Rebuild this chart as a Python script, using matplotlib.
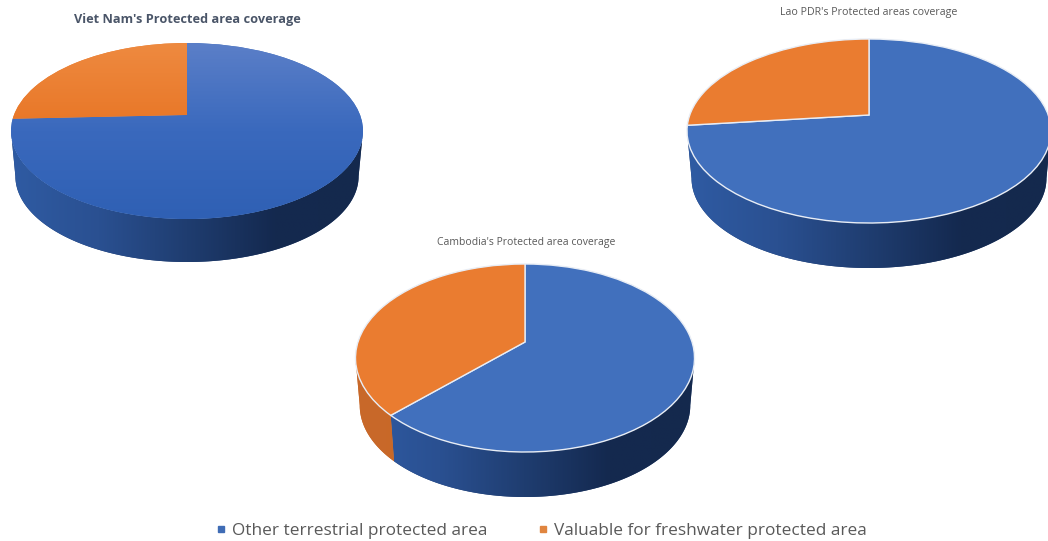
import numpy as np
import matplotlib
matplotlib.use("Agg")
import matplotlib.pyplot as plt
from matplotlib.lines import Line2D
from matplotlib.path import Path
from matplotlib.patches import PathPatch
from matplotlib.transforms import Transform
from matplotlib.colors import LinearSegmentedColormap

plt.rcParams['font.family'] = ['Open Sans', 'DejaVu Sans']

# ---- data ----
categories = ["Other terrestrial protected area", "Valuable for freshwater protected area"]
viet_nam = [74.3, 25.7]
lao_pdr = [73.2, 26.8]
cambodia = [62.5, 37.5]
title_vn = "Viet Nam's Protected area coverage"
title_lao = "Lao PDR's Protected areas coverage"
title_cam = "Cambodia's Protected area coverage"

W, H = 1048, 541
BLUE, ORANGE = "#4170bd", "#ea7c30"
BOTTOM_SCALE = 0.975  # the lower rim is further from the viewer


class Perspective(Transform):
    """Tilts the unit-circle pie plane into the screen plane."""
    input_dims = output_dims = 2
    is_affine = False
    has_inverse = False

    def __init__(self, a, b, p):
        super().__init__()
        self.a, self.b, self.p = a, b, p

    def transform_non_affine(self, values):
        values = np.asarray(values, float)
        w = 1 + self.p * values[:, 1]
        return np.column_stack([self.a * values[:, 0] / w, self.b * values[:, 1] / w])


def draw_pie(fig, values, title, apex, rx, dt, db, depth, title_xy, title_kw, glossy, edge):
    cx, cy = apex
    ax = fig.add_axes([0, 0, 1, 1], facecolor="none")
    wedges, _ = ax.pie(values, startangle=90, counterclock=False, colors=[BLUE, ORANGE],
                       radius=1, wedgeprops=dict(edgecolor=edge, linewidth=1.0 if edge != "none" else 0))
    ax.axis("off")

    p = (db - dt) / (db + dt)
    b = dt * (1 + p)
    a = rx * np.sqrt(1 - p ** 2)
    persp = Perspective(a, b, p)
    for w in wedges:
        w.set_transform(persp + ax.transData)
        w.set_zorder(3)

    # extruded side wall: only the part of each slice that faces the viewer
    lo = 180 + np.degrees(np.arcsin(p))
    hi = 360 - np.degrees(np.arcsin(p))
    side_maps = [
        LinearSegmentedColormap.from_list("b", ["#2f5ba3", "#2a5091", "#1f3d70", "#14294f", "#15294d"]),
        LinearSegmentedColormap.from_list("o", ["#c9692a", "#c0641f"]),
    ]
    extent = [-rx, rx, -db - depth - 2, 30]
    drop = depth + db * (1 - BOTTOM_SCALE)
    for w, cmap in zip(wedges, side_maps):
        for shift in (-720, -360, 0, 360):
            s1, s2 = max(w.theta1, lo + shift) - shift, min(w.theta2, hi + shift) - shift
            if s2 <= s1:
                continue
            th = np.radians(np.linspace(s1, s2, 200))
            top = persp.transform_non_affine(np.column_stack([np.cos(th), np.sin(th)]))
            bot = top[::-1] * BOTTOM_SCALE - [0, drop]
            verts = np.vstack([top, bot, top[:1]])
            codes = [Path.MOVETO] + [Path.LINETO] * (len(verts) - 2) + [Path.CLOSEPOLY]
            patch = PathPatch(Path(verts, codes), facecolor=cmap(0.5), edgecolor="none", zorder=1)
            ax.add_patch(patch)
            grad = np.linspace(0, 1, 256)[None, :]
            im = ax.imshow(grad, cmap=cmap, extent=extent, aspect="auto", zorder=2, interpolation="bilinear")
            im.set_clip_path(patch)

    if glossy:
        maps = [LinearSegmentedColormap.from_list("tb", ["#2f60b4", "#3a69bd", "#5b7fc8"]),
                LinearSegmentedColormap.from_list("to", ["#e0681a", "#e87525", "#ee8a40"])]
        for w, cmap in zip(wedges, maps):
            g = np.linspace(0, 1, 256)[:, None]
            im = ax.imshow(g, cmap=cmap, origin="lower", extent=[-rx, rx, -db, dt], aspect="auto",
                           zorder=4, interpolation="bilinear")
            im.set_clip_path(w)

    ax.set_aspect("auto")
    ax.set_xlim(-cx, W - cx)
    ax.set_ylim(cy - H, cy)
    ax.text(title_xy[0] - cx, cy - title_xy[1], title, ha="center", va="center", **title_kw)
    return wedges


fig = plt.figure(figsize=(W / 100, H / 100), dpi=100, facecolor="white")

draw_pie(fig, viet_nam, title_vn, (187, 115), 176, 72, 104, 43, (187, 20),
         dict(fontsize=9.2, fontweight="bold", color="#4a5568"), True, "none")
draw_pie(fig, lao_pdr, title_lao, (869, 115), 182, 76, 108, 45, (869, 13),
         dict(fontsize=7.7, color="#595959"), False, "#e8edf5")
draw_pie(fig, cambodia, title_cam, (525, 342), 169.5, 78, 110, 45, (526, 242),
         dict(fontsize=7.45, color="#595959"), False, "#e8edf5")

handles = [Line2D([], [], linestyle="none", marker="s", markersize=4.5, color=c) for c in ("#3f6cb5", "#e0853f")]
fig.legend(handles, categories, loc="center", bbox_to_anchor=(539.5 / W, 1 - 531 / H), ncol=2,
           frameon=False, fontsize=12.4, labelcolor="#595959", handletextpad=0.15,
           columnspacing=2.7, handlelength=1.0)

fig.savefig("out.png", dpi=100, facecolor="white")
